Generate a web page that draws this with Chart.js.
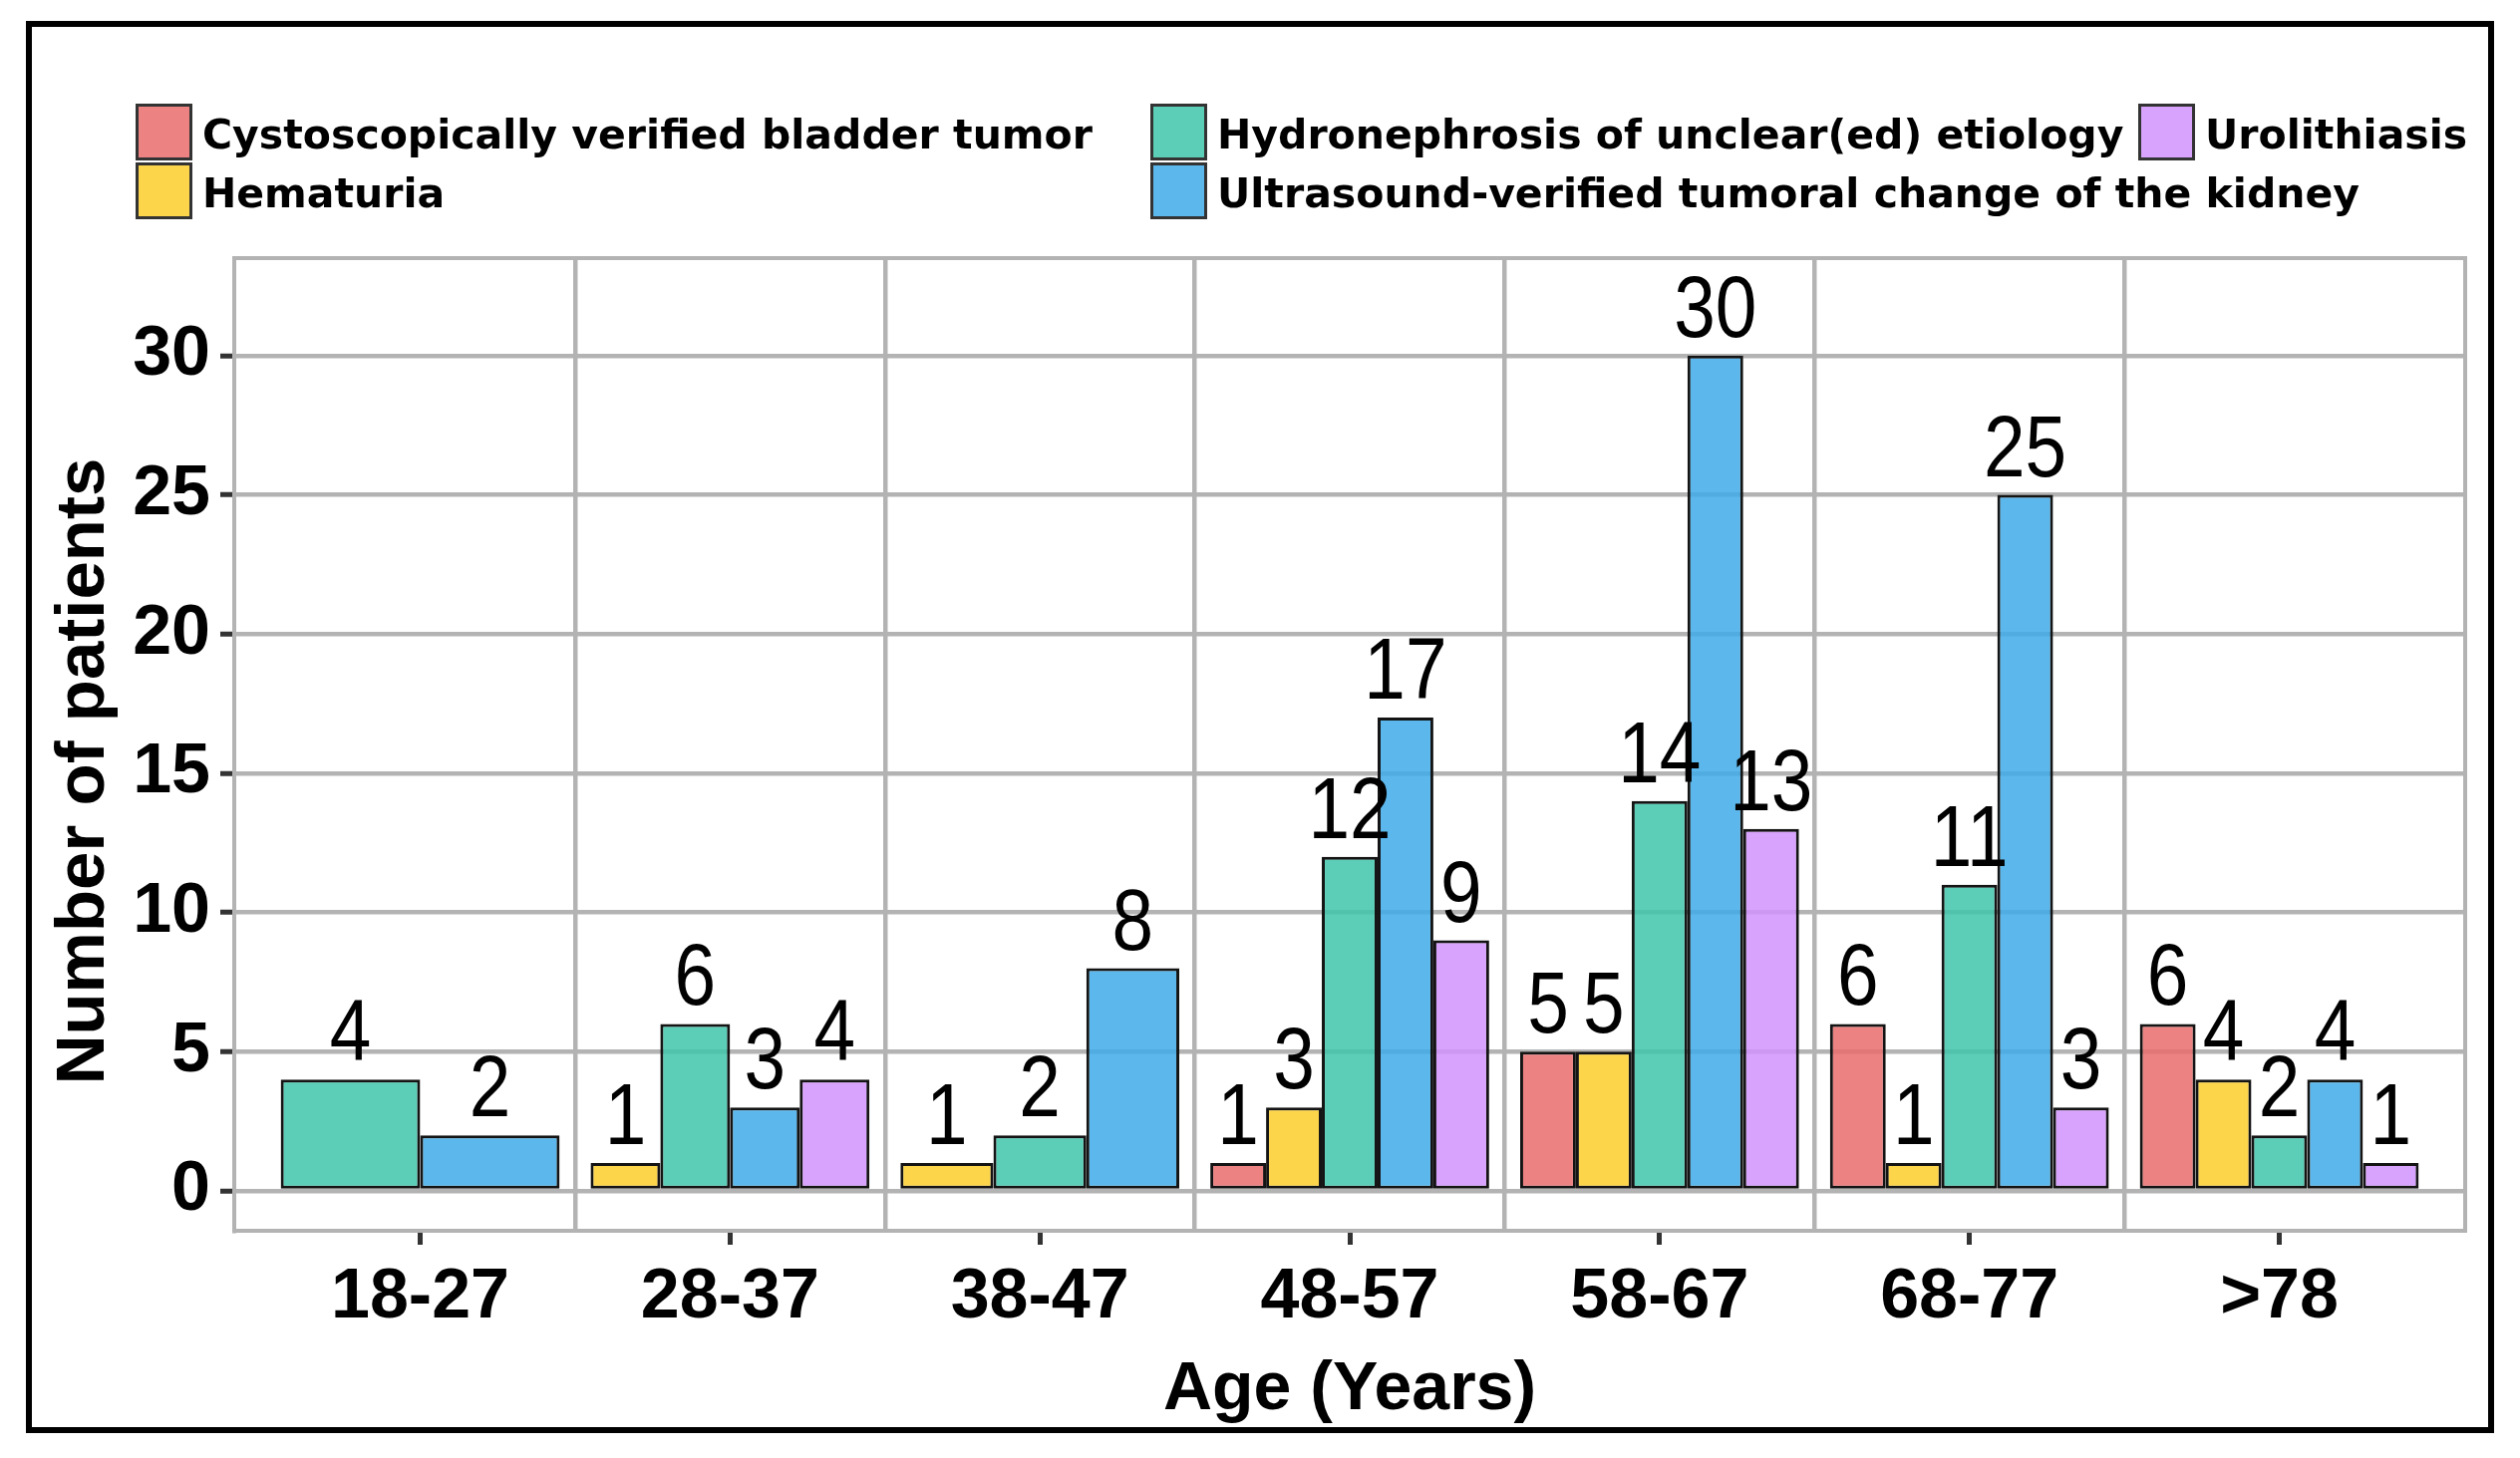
<!DOCTYPE html>
<html>
<head>
<meta charset="utf-8">
<script src="https://cdn.jsdelivr.net/npm/chart.js@4.4.1/dist/chart.umd.min.js"></script>
<style>
  html, body { margin: 0; padding: 0; background: #ffffff; }
  canvas { display: block; }
</style>
</head>
<body>
<canvas id="chart" width="2528" height="1463"></canvas>
<script>
// ---------------- data ----------------
const categories = ['18-27', '28-37', '38-47', '48-57', '58-67', '68-77', '>78'];
const seriesNames = [
  'Cystoscopically verified bladder tumor',
  'Hematuria',
  'Hydronephrosis of unclear(ed) etiology',
  'Ultrasound-verified tumoral change of the kidney',
  'Urolithiasis'
];
const bladderTumor   = [null, null, null, 1, 5, 6, 6];
const hematuria      = [null, 1, 1, 3, 5, 1, 4];
const hydronephrosis = [4, 6, 2, 12, 14, 11, 2];
const kidneyTumor    = [2, 3, 8, 17, 30, 25, 4];
const urolithiasis   = [null, 4, null, 9, 13, 3, 1];
const yTicks = [0, 5, 10, 15, 20, 25, 30];
const yRange = [-1.43, 33.5];
const xRange = [-0.6, 6.6];
const xTitle = 'Age (Years)';
const yTitle = 'Number of patients';

// ---------------- styles ----------------
const seriesColors = [
  'rgba(233,108,108,0.85)',
  'rgba(253,206,44,0.85)',
  'rgba(64,197,172,0.85)',
  'rgba(63,172,233,0.85)',
  'rgba(208,147,252,0.85)'
];
const seriesValues = [bladderTumor, hematuria, hydronephrosis, kidneyTumor, urolithiasis];
const GRID = '#b3b3b3';
const HELV = '"Liberation Sans", Arial, Helvetica, sans-serif';
const legendColumnsX = [136, 1154, 2145];

const datasets = seriesNames.map((name, s) => ({
  label: name,
  data: seriesValues[s].map((v, i) => ({ x: i, y: v })),
  backgroundColor: seriesColors[s],
  borderColor: '#141414',
  borderWidth: 3,
  borderSkipped: false,
  categoryPercentage: 0.9,
  barPercentage: 1.0,
  skipNull: true
}));

// ---------------- plugins ----------------
const framePlugin = {
  id: 'frame',
  afterDraw(chart) {
    const ctx = chart.ctx;
    ctx.save();
    ctx.strokeStyle = '#000';
    ctx.lineWidth = 6;
    ctx.strokeRect(29, 24, 2470, 1411);
    ctx.restore();
  }
};

const panelBorderPlugin = {
  id: 'panelBorder',
  beforeDatasetsDraw(chart) {
    const { ctx, chartArea: a } = chart;
    ctx.save();
    ctx.strokeStyle = GRID;
    ctx.lineWidth = 4;
    ctx.strokeRect(a.left, a.top, a.right - a.left, a.bottom - a.top);
    ctx.restore();
  }
};

const yTitlePlugin = {
  id: 'yTitle',
  afterDraw(chart) {
    const ctx = chart.ctx;
    ctx.save();
    ctx.translate(85, 774);
    ctx.rotate(-Math.PI / 2);
    ctx.font = 'bold 69px ' + HELV;
    ctx.fillStyle = '#000';
    ctx.textAlign = 'center';
    ctx.textBaseline = 'middle';
    ctx.fillText(yTitle, 0, 0);
    ctx.restore();
  }
};

const valueLabelPlugin = {
  id: 'valueLabels',
  afterDatasetsDraw(chart) {
    const ctx = chart.ctx;
    ctx.save();
    ctx.font = '88px ' + HELV;
    ctx.fillStyle = '#000';
    ctx.textAlign = 'center';
    ctx.textBaseline = 'alphabetic';
    chart.data.datasets.forEach((ds, di) => {
      const meta = chart.getDatasetMeta(di);
      meta.data.forEach((el, i) => {
        const v = ds.data[i].y;
        if (v === null || v === undefined) return;
        ctx.save();
        ctx.translate(el.x, el.y - 19);
        ctx.scale(0.85, 1);
        ctx.fillText(String(v), 0, 0);
        ctx.restore();
      });
    });
    ctx.restore();
  }
};

const legendPlugin = {
  id: 'gridLegend',
  afterDraw(chart) {
    const ctx = chart.ctx;
    const rowTop = 104, key = 57, textGap = 10, rows = 2;
    ctx.save();
    ctx.font = 'bold 41px "DejaVu Sans", sans-serif';
    ctx.textBaseline = 'middle';
    ctx.textAlign = 'left';
    chart.data.datasets.forEach((ds, i) => {
      const x = legendColumnsX[Math.floor(i / rows)];
      const y = rowTop + (i % rows) * (key + 2);
      ctx.fillStyle = '#ffffff';
      ctx.fillRect(x, y, key, key);
      ctx.fillStyle = ds.backgroundColor;
      ctx.fillRect(x, y, key, key);
      ctx.strokeStyle = '#333';
      ctx.lineWidth = 3;
      ctx.strokeRect(x + 1.5, y + 1.5, key - 3, key - 3);
      ctx.fillStyle = '#000';
      ctx.fillText(ds.label, x + key + textGap, y + key / 2 + 6);
    });
    ctx.restore();
  }
};

// ---------------- chart ----------------
new Chart(document.getElementById('chart'), {
  type: 'bar',
  data: { datasets },
  options: {
    responsive: false,
    devicePixelRatio: 1,
    animation: false,
    layout: { padding: { left: 30, top: 259, right: 55, bottom: 20 } },
    plugins: { legend: { display: false }, tooltip: { enabled: false } },
    scales: {
      x: {
        type: 'linear',
        position: 'bottom',
        offset: false,
        min: xRange[0],
        max: xRange[1],
        afterBuildTicks: (axis) => { axis.ticks = categories.map((c, i) => ({ value: i })); },
        afterFit: (scale) => { scale.height = 1463 - 1235 - 20; },
        ticks: {
          callback: (v) => categories[v] !== undefined ? categories[v] : '',
          font: { family: HELV, weight: 'bold', size: 70 },
          color: '#000',
          padding: 12,
          autoSkip: false,
          maxRotation: 0
        },
        grid: { offset: false, drawOnChartArea: false, drawTicks: true, tickLength: 14, tickColor: '#333', tickWidth: 5 },
        border: { display: true, color: GRID, width: 4 },
        title: {
          display: true,
          text: xTitle,
          color: '#000',
          font: { family: HELV, weight: 'bold', size: 68 },
          padding: { top: 0, bottom: 7 }
        }
      },
      xGrid: {
        type: 'linear',
        position: 'top',
        offset: false,
        min: xRange[0],
        max: xRange[1],
        afterBuildTicks: (axis) => { axis.ticks = categories.slice(1).map((c, i) => ({ value: i + 0.5 })); },
        ticks: { display: false },
        grid: { offset: false, color: GRID, lineWidth: 4.5, drawTicks: false },
        border: { display: false }
      },
      y: {
        type: 'linear',
        min: yRange[0],
        max: yRange[1],
        afterBuildTicks: (axis) => { axis.ticks = yTicks.map(v => ({ value: v })); },
        afterFit: (scale) => { scale.width = 205; },
        ticks: {
          font: { family: HELV, weight: 'bold', size: 70 },
          color: '#000',
          padding: 10
        },
        grid: { color: GRID, lineWidth: 4.5, tickLength: 14, tickColor: '#333', tickWidth: 5 },
        border: { display: true, color: GRID, width: 4 },
        title: { display: false }
      }
    }
  },
  plugins: [panelBorderPlugin, valueLabelPlugin, legendPlugin, yTitlePlugin, framePlugin]
});
</script>
</body>
</html>
